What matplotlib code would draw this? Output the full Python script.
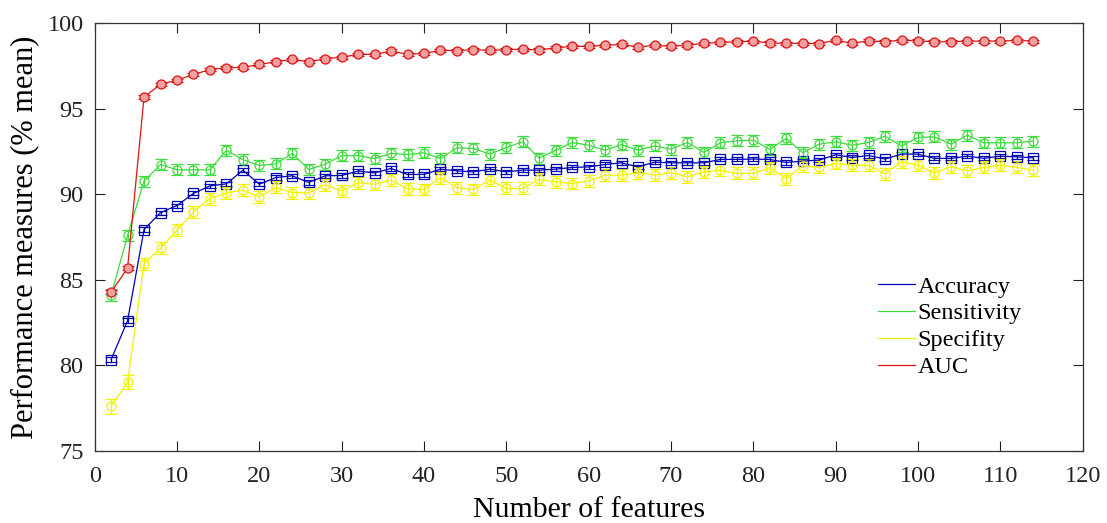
import matplotlib
matplotlib.use('Agg')
import matplotlib.pyplot as plt
import numpy as np

plt.rcParams['font.family'] = ['Liberation Serif', 'DejaVu Serif']

# number of features
features = list(range(2, 116, 2))

accuracy = [80.33, 82.61, 87.94, 88.93, 89.34, 90.05, 90.49, 90.61, 91.41, 90.59,
            90.98, 91.08, 90.69, 91.08, 91.10, 91.36, 91.25, 91.51, 91.16, 91.16,
            91.47, 91.37, 91.31, 91.47, 91.31, 91.41, 91.41, 91.47, 91.57, 91.60,
            91.74, 91.84, 91.60, 91.88, 91.84, 91.84, 91.84, 92.04, 92.04, 92.06,
            92.04, 91.86, 91.94, 92.00, 92.31, 92.15, 92.27, 92.06, 92.35, 92.35,
            92.10, 92.10, 92.23, 92.10, 92.23, 92.19, 92.13]
sensitivity = [84.10, 87.59, 90.77, 91.74, 91.43, 91.43, 91.43, 92.58, 92.03, 91.69,
               91.78, 92.39, 91.45, 91.76, 92.26, 92.26, 92.09, 92.39, 92.33, 92.43,
               92.09, 92.72, 92.68, 92.35, 92.74, 93.07, 92.11, 92.58, 93.03, 92.87,
               92.58, 92.91, 92.58, 92.83, 92.64, 93.03, 92.45, 93.01, 93.13, 93.17,
               92.62, 93.27, 92.43, 92.93, 93.07, 92.87, 93.03, 93.40, 92.82, 93.33,
               93.36, 92.93, 93.46, 93.01, 93.01, 93.01, 93.11]
specifity = [77.59, 79.02, 85.95, 86.84, 87.90, 88.97, 89.75, 90.08, 90.24, 89.85,
             90.40, 90.10, 90.08, 90.57, 90.19, 90.67, 90.59, 90.83, 90.32, 90.28,
             90.98, 90.38, 90.28, 90.83, 90.34, 90.34, 90.87, 90.73, 90.63, 90.78,
             91.12, 91.12, 91.27, 91.12, 91.27, 91.02, 91.31, 91.41, 91.22, 91.22,
             91.55, 90.92, 91.65, 91.57, 91.80, 91.70, 91.70, 91.18, 91.90, 91.70,
             91.25, 91.61, 91.37, 91.57, 91.70, 91.57, 91.41]
auc = [84.27, 85.69, 95.69, 96.43, 96.68, 97.01, 97.29, 97.40, 97.42, 97.60,
       97.75, 97.89, 97.75, 97.93, 98.02, 98.18, 98.18, 98.38, 98.18, 98.24,
       98.42, 98.40, 98.46, 98.42, 98.46, 98.48, 98.44, 98.57, 98.65, 98.65,
       98.71, 98.77, 98.61, 98.71, 98.65, 98.73, 98.82, 98.89, 98.91, 98.96,
       98.85, 98.83, 98.83, 98.81, 99.02, 98.83, 98.98, 98.92, 99.02, 98.98,
       98.92, 98.92, 98.96, 98.96, 98.96, 99.00, 98.96]

# error bar half widths
acc_err = [0.15, 0.15] + [0.12] * 55
sen_err = [0.35, 0.35] + [0.32] * 55
spe_err = [0.45, 0.40] + [0.35] * 55
auc_err = [0.12, 0.12] + [0.09] * 55

labels = ['Accuracy', 'Sensitivity', 'Specifity', 'AUC']

fig = plt.figure(figsize=(11.07, 5.23), dpi=100)
ax = fig.add_axes([0.0855, 0.1382, 0.8925, 0.8172])

series = [
    (accuracy, acc_err, '#0000b4', 's', 'none'),
    (sensitivity, sen_err, '#3bdc3b', 'o', 'none'),
    (specifity, spe_err, '#f2f200', 'o', 'none'),
    (auc, auc_err, '#dd1515', 'o', '#f4a0a0'),
]
handles = []
for (vals, err, col, mk, fc), lab in zip(series, labels):
    ax.errorbar(features, vals, yerr=err, color=col, lw=0.9, elinewidth=0.9,
                capsize=4, capthick=0.9, marker=mk, ms=6.5, mfc=fc, mec=col,
                mew=0.9, zorder=3)
    h, = ax.plot([], [], color=col, lw=0.9, label=lab)
    handles.append(h)

ax.set_xlim(0, 120)
ax.set_ylim(75, 100)
ax.set_xticks(np.arange(0, 121, 10))
ax.set_yticks(np.arange(75, 101, 5))
ax.tick_params(direction='in', length=7, width=0.8, top=True, right=True,
               labelsize=17.5, colors='#222222')
ax.tick_params(axis='x', pad=11)
ax.tick_params(axis='y', pad=8)
for s in ax.spines.values():
    s.set_color('#333333')
    s.set_linewidth(0.9)

ax.set_xlabel('Number of features', fontsize=21.5, labelpad=7)
ax.set_ylabel('Performance measures (% mean)', fontsize=22, labelpad=6)

ax.legend(handles=handles, loc='upper left', bbox_to_anchor=(0.793, 0.41),
          frameon=False, fontsize=17.5, handlelength=1.5, handletextpad=0.12,
          labelspacing=0.2, borderpad=0, borderaxespad=0)

fig.savefig('out.png', dpi=100)
